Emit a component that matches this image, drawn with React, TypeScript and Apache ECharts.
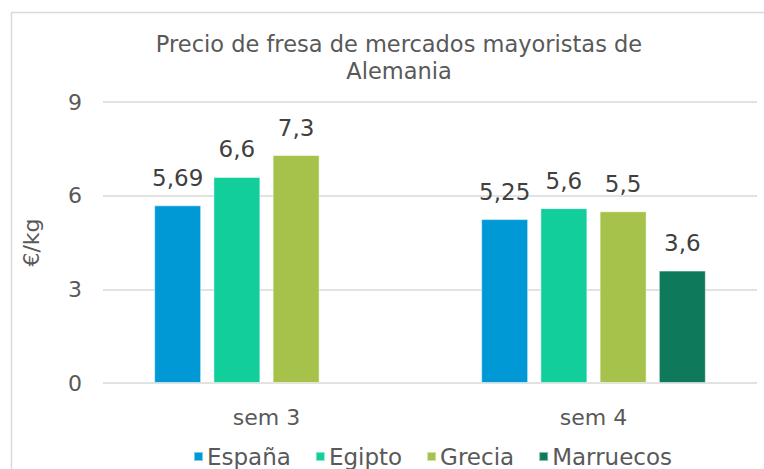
import React, { useEffect, useRef } from "react";
import * as echarts from "echarts";

const categories = ["sem 3", "sem 4"];
const seriesNames = ["España", "Egipto", "Grecia", "Marruecos"];
const espana = [5.69, 5.25];
const egipto = [6.6, 5.6];
const grecia = [7.3, 5.5];
const marruecos: (number | null)[] = [null, 3.6];
const colors = ["#0099D6", "#12CE9A", "#A6C24A", "#0E7A5B"];
const yTicks = { min: 0, max: 9, interval: 3 };
const titleText = "Precio de fresa de mercados mayoristas de\nAlemania";
const yName = "€/kg";

const FONT = "DejaVu Sans";

export default function App() {
  const ref = useRef<HTMLDivElement>(null);
  useEffect(() => {
    if (!ref.current) return;
    const chart = echarts.init(ref.current, null, { renderer: "svg" });
    const data = [espana, egipto, grecia, marruecos];
    const fmt = (v: number) => String(v).replace(".", ",");
    chart.setOption({
      animation: false,
      backgroundColor: "#ffffff",
      textStyle: { fontFamily: FONT },
      title: {
        text: titleText,
        left: 394,
        top: 25,
        textAlign: "center",
        textStyle: {
          fontFamily: FONT,
          fontSize: 22.5,
          fontWeight: "normal",
          color: "#595959",
          lineHeight: 27,
        },
      },
      graphic: [
        {
          type: "rect",
          left: 9,
          top: 10,
          shape: { x: 0, y: 0, width: 900, height: 600 },
          style: { fill: "none", stroke: "#d9d9d9", lineWidth: 1.5 },
          silent: true,
          z: -1,
        },
      ],
      grid: { left: 103, right: 7, top: 102, bottom: 86, containLabel: false },
      legend: {
        data: seriesNames,
        left: 188,
        top: 440,
        itemWidth: 9,
        itemHeight: 9,
        itemGap: 24,
        icon: "rect",
        textStyle: { fontFamily: FONT, fontSize: 23, color: "#595959", padding: [0, 0, 0, -1] },
      },
      xAxis: {
        type: "category",
        data: categories,
        axisLine: { show: false },
        axisTick: { show: false },
        axisLabel: { fontFamily: FONT, fontSize: 22, color: "#595959", margin: 23 },
      },
      yAxis: {
        type: "value",
        min: yTicks.min,
        max: yTicks.max,
        interval: yTicks.interval,
        name: yName,
        nameLocation: "middle",
        nameRotate: 90,
        nameGap: 61,
        nameTextStyle: { fontFamily: FONT, fontSize: 22, color: "#595959" },
        axisLine: { show: false },
        axisTick: { show: false },
        axisLabel: { fontFamily: FONT, fontSize: 22, color: "#595959", margin: 21 },
        splitLine: { lineStyle: { color: "#d9d9d9", width: 1.5 } },
      },
      series: seriesNames.map((name, i) => ({
        name,
        type: "bar",
        data: data[i],
        barWidth: 47,
        barGap: "26%",
        itemStyle: { color: colors[i], borderColor: "rgba(255,255,255,0.5)", borderWidth: 1 },
        label: {
          show: true,
          position: "top",
          distance: 16,
          fontFamily: FONT,
          fontSize: 23,
          color: "#404040",
          formatter: (p: any) => (p.value == null ? "" : fmt(p.value)),
        },
      })),
    });
    return () => chart.dispose();
  }, []);
  return (
    <div
      ref={ref}
      style={{ position: "fixed", left: 0, top: 0, width: 764, height: 469 }}
    />
  );
}
